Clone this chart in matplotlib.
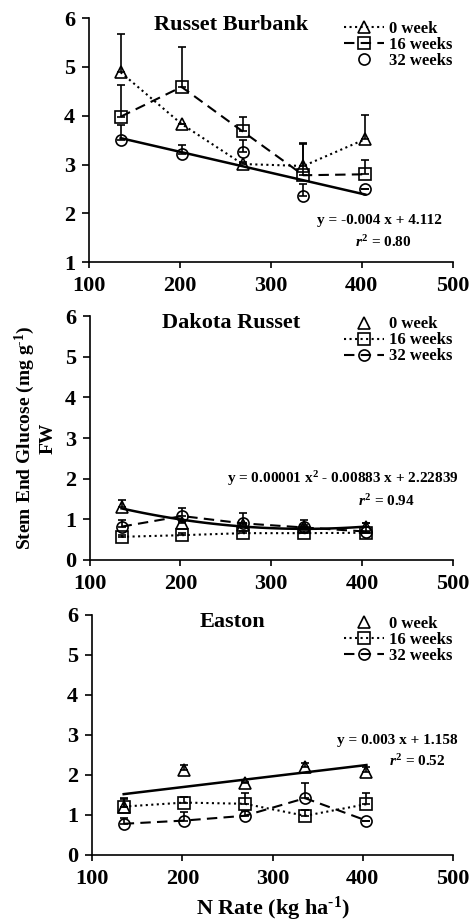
""" Stem end glucose vs N rate for three potato cultivars """

import numpy as np
import matplotlib
matplotlib.use("Agg")
import matplotlib.pyplot as plt

n_rate = [135, 202, 269, 336, 404]

# Russet Burbank
rb_0 = [4.89, 3.83, 3.01, 2.97, 3.52]
rb_0_err = [0.79, 0.0, 0.05, 0.46, 0.49]
rb_16 = [3.98, 4.59, 3.68, 2.78, 2.80]
rb_16_err = [0.64, 0.81, 0.30, 0.67, 0.30]
rb_32 = [3.51, 3.21, 3.25, 2.36, 2.49]
rb_32_err = [0.30, 0.20, 0.26, 0.25, 0.0]

# Dakota Russet
dr_0 = [1.30, 0.92, 0.85, 0.80, 0.80]
dr_0_err = [0.18, 0.05, 0.05, 0.05, 0.10]
dr_16 = [0.57, 0.61, 0.66, 0.66, 0.67]
dr_16_err = [0.05, 0.05, 0.05, 0.05, 0.05]
dr_32 = [0.82, 1.08, 0.90, 0.80, 0.70]
dr_32_err = [0.16, 0.19, 0.25, 0.18, 0.20]

# Easton
ea_0 = [1.21, 2.13, 1.79, 2.21, 2.08]
ea_0_err = [0.21, 0.12, 0.03, 0.10, 0.11]
ea_16 = [1.21, 1.31, 1.28, 0.98, 1.27]
ea_16_err = [0.18, 0.15, 0.26, 0.14, 0.27]
ea_32 = [0.78, 0.86, 0.98, 1.42, 0.86]
ea_32_err = [0.14, 0.21, 0.12, 0.37, 0.0]

FONT = "Liberation Serif"


def series(ax, y, err, marker, ls, label, line=True):
    """ hollow markers with upper error bars """
    ax.errorbar(n_rate, y, yerr=[np.zeros(len(err)), err], fmt="none",
                ecolor="black", elinewidth=1.2, capsize=3, capthick=1.2, zorder=2)
    ax.plot(n_rate, y, linestyle=ls if line else "none", color="black", lw=1.5,
            marker=marker, markersize=8, markerfacecolor="none",
            markeredgecolor="black", markeredgewidth=1.2, label=label, zorder=3)


def trend(ax, y, deg):
    """ least squares trend line over the N rate range """
    coef = np.polyfit(n_rate, y, deg)
    xs = np.linspace(n_rate[0], n_rate[-1], 100)
    ax.plot(xs, np.polyval(coef, xs), color="black", lw=1.8, zorder=2)


def note(ax, x, y, s):
    ax.text(x, y, s, transform=ax.transAxes, ha="center", va="center",
            fontsize=11, fontweight="bold", family=FONT)


def style(ax, ylo, title, leg_y):
    ax.set_xlim(100, 500)
    ax.set_ylim(ylo, 6)
    ax.set_xticks([100, 200, 300, 400, 500])
    ax.set_yticks(range(ylo, 7))
    for s in ["top", "right"]:
        ax.spines[s].set_visible(False)
    for s in ["left", "bottom"]:
        ax.spines[s].set_linewidth(1.2)
    ax.tick_params(axis="y", direction="out", length=5, width=1.2,
                   labelsize=16, pad=5)
    ax.tick_params(axis="x", direction="out", length=4, width=1.2,
                   labelsize=16, pad=6)
    for lab in ax.get_xticklabels() + ax.get_yticklabels():
        lab.set_fontfamily(FONT)
        lab.set_fontweight("bold")
    ax.text(0.39, 0.97, title, transform=ax.transAxes, ha="center", va="center",
            fontsize=16, fontweight="bold", family=FONT)
    ax.legend(loc="upper right", bbox_to_anchor=(1.04, leg_y), frameon=False,
              handlelength=2.4, handletextpad=0.3, labelspacing=0.0,
              prop={"family": FONT, "weight": "bold", "size": 12})


def main():
    fig = plt.figure(figsize=(4.7, 9.23), dpi=100)

    ax1 = fig.add_axes([0.189, 0.716, 0.774, 0.2644])
    series(ax1, rb_0, rb_0_err, "^", ":", "0 week")
    series(ax1, rb_16, rb_16_err, "s", (0, (5, 3)), "16 weeks")
    series(ax1, rb_32, rb_32_err, "o", "-", "32 weeks", line=False)
    trend(ax1, rb_32, 1)
    style(ax1, 1, "Russet Burbank", 1.05)
    note(ax1, 0.80, 0.172, "y = -0.004 x + 4.112")
    note(ax1, 0.81, 0.082, r"$\mathit{r}^2$ = 0.80")

    ax2 = fig.add_axes([0.191, 0.3933, 0.772, 0.2643])
    series(ax2, dr_0, dr_0_err, "^", "-", "0 week", line=False)
    series(ax2, dr_16, dr_16_err, "s", ":", "16 weeks")
    series(ax2, dr_32, dr_32_err, "o", (0, (5, 3)), "32 weeks")
    trend(ax2, dr_0, 2)
    style(ax2, 0, "Dakota Russet", 1.06)
    note(ax2, 0.698, 0.332, r"y = 0.00001 x$^{2}$ - 0.00883 x + 2.22839")
    note(ax2, 0.818, 0.242, r"$\mathit{r}^2$ = 0.94")
    ax2.set_ylabel("Stem End Glucose (mg g$^{\\text{-1}}$)\nFW", fontsize=14,
                   fontweight="bold", family=FONT, labelpad=6)

    ax3 = fig.add_axes([0.196, 0.0737, 0.768, 0.26])
    series(ax3, ea_0, ea_0_err, "^", "-", "0 week", line=False)
    series(ax3, ea_16, ea_16_err, "s", ":", "16 weeks")
    series(ax3, ea_32, ea_32_err, "o", (0, (5, 3)), "32 weeks")
    trend(ax3, ea_0, 1)
    style(ax3, 0, "Easton", 1.06)
    note(ax3, 0.845, 0.479, "y = 0.003 x + 1.158")
    note(ax3, 0.90, 0.392, r"$\mathit{r}^2$ = 0.52")
    ax3.set_xlabel("N Rate (kg ha$^{\\text{-1}}$)", fontsize=16,
                   fontweight="bold", family=FONT, labelpad=4)

    fig.savefig("out.png", dpi=100)


if __name__ == "__main__":
    plt.rcParams["mathtext.fontset"] = "custom"
    plt.rcParams["mathtext.rm"] = "Liberation Serif:bold"
    plt.rcParams["mathtext.it"] = "Liberation Serif:italic:bold"
    plt.rcParams["mathtext.bf"] = "Liberation Serif:bold"
    main()
